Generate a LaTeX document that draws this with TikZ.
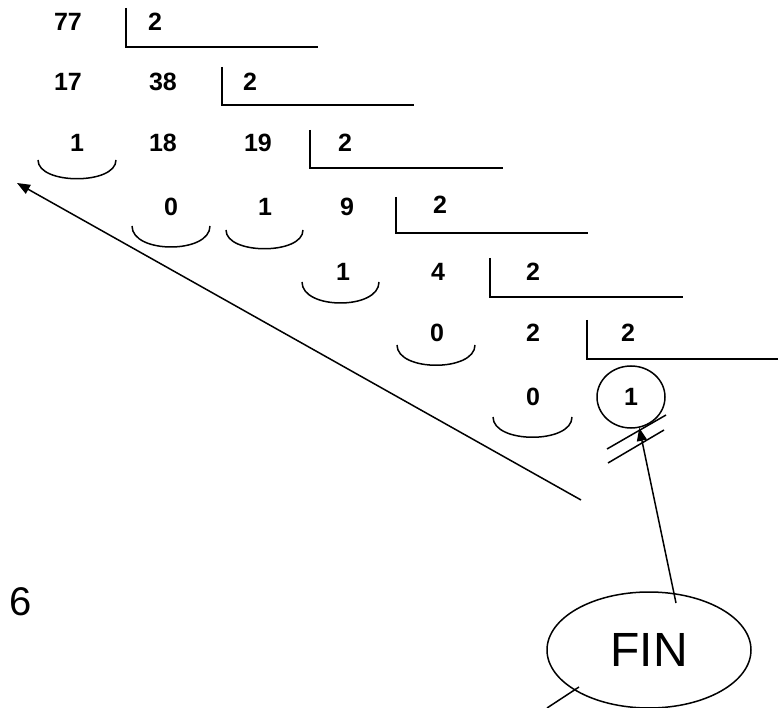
\documentclass[tikz,border=0pt]{standalone}
\usepackage{fontspec}
\setmainfont{Liberation Sans}
\usetikzlibrary{arrows.meta,shapes.geometric}
\begin{document}
\begin{tikzpicture}[x=1pt,y=-1pt,
  num/.style={inner sep=0pt,font=\fontsize{25}{30}\selectfont\bfseries},
  brk/.style={line width=2pt},
  smilearc/.style={line width=1.5pt},
  conn/.style={line width=1.5pt,-{Triangle[length=13pt,width=10pt]}}]
\useasboundingbox (0,0) rectangle (782,708);
% row 1
\node[num] (n77) at (68,22) {77};
\node[num] (d1) at (155,22) {2};
\draw[brk] (125.7,8) -- (125.7,47.5) -- (318,47.5);
% row 2
\node[num] (n17) at (68,82) {17};
\node[num] (n38) at (163,82) {38};
\node[num] (d2) at (250,82) {2};
\draw[brk] (222,67) -- (222,105) -- (414,105);
% row 3
\node[num] (r1) at (77,143) {1};
\node[num] (n18) at (163,143) {18};
\node[num] (n19) at (258,143) {19};
\node[num] (d3) at (345,143) {2};
\draw[brk] (310,130) -- (310,168) -- (503,168);
% row 4
\node[num] (r2) at (171,207) {0};
\node[num] (r3) at (265,207) {1};
\node[num] (n9) at (347,207) {9};
\node[num] (d4) at (440,205) {2};
\draw[brk] (396,197) -- (396,233) -- (588,233);
% row 5
\node[num] (r4) at (343,272) {1};
\node[num] (n4) at (438,272) {4};
\node[num] (d5) at (533,272) {2};
\draw[brk] (490,258) -- (490,297) -- (683,297);
% row 6
\node[num] (r5) at (437,333) {0};
\node[num] (n2) at (533,333) {2};
\node[num] (d6) at (628,333) {2};
\draw[brk] (587,320) -- (587,359) -- (778,359);
% row 7
\node[num] (r6) at (533,397) {0};
\node[num,draw,ellipse,line width=1.5pt,minimum width=68pt,minimum height=62pt] (c1) at (631,397) {1};
% smiles
\draw[smilearc] (38,160) .. controls (38,185) and (116,185) .. (116,160);
\draw[smilearc] (132,226) .. controls (132,254) and (210,254) .. (210,226);
\draw[smilearc] (226,230) .. controls (226,255) and (303,255) .. (303,230);
\draw[smilearc] (302,282) .. controls (302,310) and (379,310) .. (379,282);
\draw[smilearc] (397,345) .. controls (397,372) and (475,372) .. (475,345);
\draw[smilearc] (493,417) .. controls (493,444) and (572,444) .. (572,417);
% long arrow
\coordinate (la) at (581,500);
\coordinate (lb) at (17,183);
\draw[conn] (la) -- (lb);
% double strike
\draw[line width=1.5pt] (607,449) -- (666,415);
\draw[line width=1.5pt] (608,463) -- (664,430);
% FIN
\node[draw,ellipse,line width=1.5pt,minimum width=204pt,minimum height=116pt,inner sep=0pt,font=\fontsize{48}{56}\selectfont] (fin) at (649,650) {FIN};
\coordinate (fs) at (676,603);
\draw[conn] (fs) -- (c1.-75);
\coordinate (bl) at (547,708);
\coordinate (bm) at (579,687);
\draw[line width=1.5pt] (bl) -- (bm);
% six
\node[inner sep=0pt,font=\fontsize{40}{48}\selectfont] (six) at (21,602) {6};
\end{tikzpicture}
\end{document}
